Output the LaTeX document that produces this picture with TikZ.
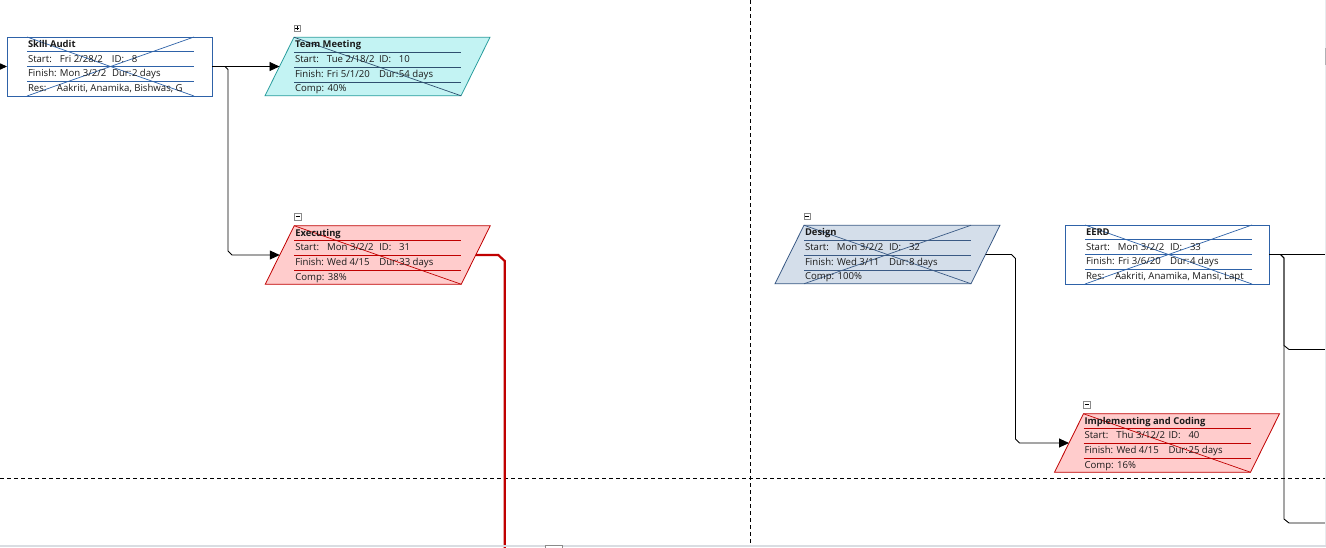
\documentclass[tikz,border=0pt]{standalone}
\usepackage{fontspec}
\setmainfont{Open Sans}
\usetikzlibrary{arrows.meta,calc}
\definecolor{txtc}{HTML}{1A1A1A}
\definecolor{rectblue}{HTML}{2E62A8}
\definecolor{tmfill}{HTML}{C3F3F3}
\definecolor{tmedge}{HTML}{2A9D9D}
\definecolor{tmline}{HTML}{2F4F6F}
\definecolor{redfill}{HTML}{FFCCCC}
\definecolor{rededge}{HTML}{C00000}
\definecolor{dsfill}{HTML}{D4DEEA}
\definecolor{dsedge}{HTML}{3A5A85}
\definecolor{stripc}{HTML}{D9DDE2}
\definecolor{xboxc}{HTML}{8A8A8A}
\newcommand\cols[4]{\makebox[32pt][l]{#1}\makebox[52pt][l]{#2}\makebox[20pt][l]{#3}#4}
\newcommand\seprules[2]{%
  \foreach \d in {14.7,29.7,44.7}{\draw[draw=#2,line width=0.8pt] ($(#1-o)+(0,\d)$) -- ++(167,0);}}
% parallelogram task: name, x, y, fill, edge
\newcommand\paratask[5]{%
  \node[pbox] (#1) at (#2,#3) {};
  \coordinate (#1-tl) at ($(#1.north west)+(29,0)$);
  \coordinate (#1-tr) at (#1.north east);
  \coordinate (#1-bl) at (#1.south west);
  \coordinate (#1-br) at ($(#1.south east)+(-29,0)$);
  \coordinate (#1-L) at ($(#1.west)+(14.5,0)$);
  \coordinate (#1-R) at ($(#1.east)+(-14.5,0)$);
  \coordinate (#1-o) at (#1-tl);
  \filldraw[fill=#4, draw=#5, line width=0.8pt] (#1-bl) -- (#1-tl) -- (#1-tr) -- (#1-br) -- cycle;}
\begin{document}
\begin{tikzpicture}[x=1pt,y=-1pt,
  pbox/.style={rectangle, minimum width=225pt, minimum height=58.5pt,
    inner sep=0pt, outer sep=0pt},
  rbox/.style={rectangle, draw=rectblue, fill=white, minimum height=59pt,
    inner sep=0pt, outer sep=0pt, line width=0.9pt},
  txt/.style={anchor=base west, inner sep=0pt, outer sep=0pt, text=txtc,
    font=\fontsize{9.6}{11}\selectfont},
  ttl/.style={txt, font=\fontsize{9.4}{11}\selectfont\bfseries},
  xbox/.style={rectangle, draw=xboxc, fill=white, minimum size=6.5pt,
    inner sep=0pt, line width=0.6pt},
  sign/.style={draw=black, line width=0.7pt},
  conn/.style={draw=black, line width=0.9pt},
  redconn/.style={draw=rededge, line width=2.2pt},
  arr/.style={-{Triangle[length=10pt,width=9pt]}},
  pgbreak/.style={draw=black, line width=0.8pt, dash pattern=on 4pt off 3pt},
  diag/.style={line width=0.7pt}]
\useasboundingbox (0,0) rectangle (1326,547);
\fill[white] (0,0) rectangle (1326,547);

% page breaks
\draw[pgbreak] (750,0) -- (750,547);
\draw[pgbreak] (0,478) -- (1326,478);

% ---------- task shapes ----------
\node[rbox, minimum width=205pt] (sa) at (109.5,66.5) {};
\paratask{tm}{377.5}{66.5}{tmfill}{tmedge}
\paratask{ex}{377.75}{255}{redfill}{rededge}
\paratask{de}{887.5}{254.5}{dsfill}{dsedge}
\node[rbox, minimum width=204pt] (ee) at (1167,254.5) {};
\paratask{im}{1167}{443}{redfill}{rededge}

\coordinate (sa-o) at ($(sa.north west)+(20,0)$);
\coordinate (ee-o) at ($(ee.north west)+(20,0)$);

% separators
\seprules{sa}{rectblue}
\seprules{ee}{rectblue}
\seprules{tm}{tmline}
\seprules{ex}{rededge}
\seprules{de}{dsedge}
\seprules{im}{rededge}

% progress marks
\draw[diag, draw=rectblue] (sa-o) -- ($(sa-o)+(167,59)$);
\draw[diag, draw=rectblue] ($(sa-o)+(0,59)$) -- ($(sa-o)+(167,0)$);
\draw[diag, draw=rectblue] (ee-o) -- ($(ee-o)+(167,59)$);
\draw[diag, draw=rectblue] ($(ee-o)+(0,59)$) -- ($(ee-o)+(167,0)$);
\draw[diag, draw=tmline] (tm-tl) -- (tm-br);
\draw[diag, draw=rededge] (ex-tl) -- (ex-br);
\draw[diag, draw=dsedge] (de-tl) -- (de-br);
\draw[diag, draw=dsedge] ($(de-o)+(0,58.5)$) -- ($(de-o)+(167,0)$);
\draw[diag, draw=rededge] (im-tl) -- (im-br);

% ---------- texts ----------
\node[ttl] (sa-t) at ($(sa-o)+(1,10.5)$) {Skill Audit};
\node[txt] (sa-s) at ($(sa-o)+(1,25)$) {\cols{Start:}{Fri 2/28/2}{ID:}{8}};
\node[txt] (sa-f) at ($(sa-o)+(1,39.8)$) {\cols{Finish:}{Mon 3/2/2}{Dur:}{2 days}};
\node[txt] (sa-r) at ($(sa-o)+(1,54.3)$) {\makebox[29pt][l]{Res:}Aakriti, Anamika, Bishwas, G};

\node[ttl] (tm-t) at ($(tm-o)+(1,10.5)$) {Team Meeting};
\node[txt] (tm-s) at ($(tm-o)+(1,25)$) {\cols{Start:}{Tue 2/18/2}{ID:}{10}};
\node[txt] (tm-f) at ($(tm-o)+(1,39.8)$) {\cols{Finish:}{Fri 5/1/20}{Dur:}{54 days}};
\node[txt] (tm-c) at ($(tm-o)+(1,54.3)$) {Comp: 40\%};

\node[ttl] (ex-t) at ($(ex-o)+(1,10.5)$) {Executing};
\node[txt] (ex-s) at ($(ex-o)+(1,25)$) {\cols{Start:}{Mon 3/2/2}{ID:}{31}};
\node[txt] (ex-f) at ($(ex-o)+(1,39.8)$) {\cols{Finish:}{Wed 4/15}{Dur:}{33 days}};
\node[txt] (ex-c) at ($(ex-o)+(1,54.3)$) {Comp: 38\%};

\node[ttl] (de-t) at ($(de-o)+(1,10.5)$) {Design};
\node[txt] (de-s) at ($(de-o)+(1,25)$) {\cols{Start:}{Mon 3/2/2}{ID:}{32}};
\node[txt] (de-f) at ($(de-o)+(1,39.8)$) {\cols{Finish:}{Wed 3/11}{Dur:}{8 days}};
\node[txt] (de-c) at ($(de-o)+(1,54.3)$) {Comp: 100\%};

\node[ttl] (ee-t) at ($(ee-o)+(1,10.5)$) {EERD};
\node[txt] (ee-s) at ($(ee-o)+(1,25)$) {\cols{Start:}{Mon 3/2/2}{ID:}{33}};
\node[txt] (ee-f) at ($(ee-o)+(1,39.8)$) {\cols{Finish:}{Fri 3/6/20}{Dur:}{4 days}};
\node[txt] (ee-r) at ($(ee-o)+(1,54.3)$) {\makebox[29pt][l]{Res:}Aakriti, Anamika, Mansi, Lapt};

\node[ttl] (im-t) at ($(im-o)+(1,10.5)$) {Implementing and Coding};
\node[txt] (im-s) at ($(im-o)+(1,25)$) {\cols{Start:}{Thu 3/12/2}{ID:}{40}};
\node[txt] (im-f) at ($(im-o)+(1,39.8)$) {\cols{Finish:}{Wed 4/15}{Dur:}{25 days}};
\node[txt] (im-c) at ($(im-o)+(1,54.3)$) {Comp: 16\%};

% ---------- expand / collapse boxes ----------
\node[xbox] (tm-x) at ($(tm-o)+(3.3,-9)$) {};
\draw[sign] ($(tm-x.center)+(-2,0)$) -- ++(4,0);
\draw[sign] ($(tm-x.center)+(0,-2)$) -- ++(0,4);
\node[xbox] (ex-x) at ($(ex-o)+(3.3,-9)$) {};
\draw[sign] ($(ex-x.center)+(-2,0)$) -- ++(4,0);
\node[xbox] (de-x) at ($(de-o)+(3.3,-9)$) {};
\draw[sign] ($(de-x.center)+(-2,0)$) -- ++(4,0);
\node[xbox] (im-x) at ($(im-o)+(3.3,-9)$) {};
\draw[sign] ($(im-x.center)+(-2,0)$) -- ++(4,0);

% ---------- connectors ----------
\coordinate (inL) at ($(sa.west)+(-30,0)$);
\draw[conn, arr] (inL) -- (sa.west);
\draw[conn, arr] (sa.east) -- (tm-L);
\draw[conn, arr] (sa.east) -- ++(13,0) -- ++(3,3)
  -- ($(sa.east |- ex-L)+(16,-4)$) -- ++(4,4) -- (ex-L);
\coordinate (exend) at ($(ex-R)+(29,320)$);
\draw[redconn] (ex-R) -- ++(22.5,0) -- ++(6.5,6) -- (exend);
\draw[conn, arr] (de-R) -- ++(26,0) -- ++(4,4)
  -- ($(de-R |- im-L)+(30,-4)$) -- ++(4,4) -- (im-L);
\coordinate (eeR1) at ($(ee.east)+(80,0)$);
\coordinate (eeR2) at ($(ee.east)+(80,95)$);
\coordinate (eeR3) at ($(ee.east)+(80,268.5)$);
\draw[conn] (ee.east) -- (eeR1);
\draw[conn] (ee.east) -- ++(11.5,0) -- ++(3.5,3.5) -- ++(0,87.5) -- ++(5,4) -- (eeR2);
\draw[conn] (ee.east) -- ++(11.5,0) -- ++(3.5,3.5) -- ++(0,261) -- ++(5,4) -- (eeR3);

% ---------- window edges ----------
\fill[stripc] (0,545) rectangle (1326,547);
\fill[stripc!60!white] (1325,0) rectangle (1326,545);
\fill[stripc!80!black] (1325,48) rectangle (1326,65);
\draw[draw=xboxc, fill=white, line width=0.6pt] (545,545.5) rectangle (562,548);
\end{tikzpicture}
\end{document}
